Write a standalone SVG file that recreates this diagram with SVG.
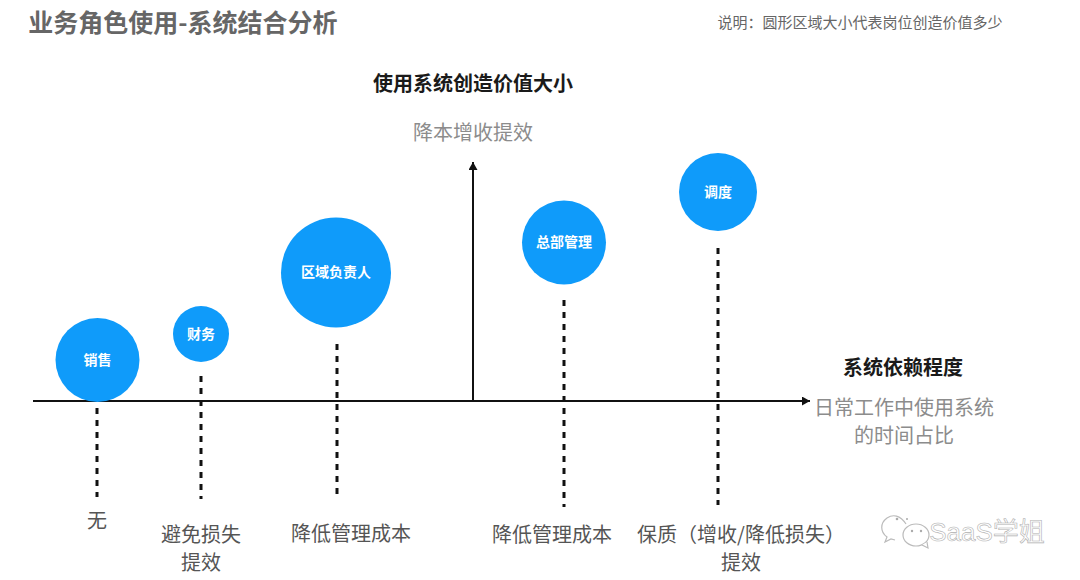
<svg xmlns="http://www.w3.org/2000/svg" width="1080" height="580" viewBox="0 0 1080 580">
<defs>
<marker id="ah" markerUnits="userSpaceOnUse" markerWidth="9" markerHeight="10" refX="8" refY="4.500" orient="auto"><path d="M0 0L8 4.500L0 9Z" fill="#111"/></marker>
</defs>
<style>
text{font-family:"Noto Sans CJK SC","Liberation Sans",sans-serif;text-anchor:middle}
.n{fill:#0F9BFA}
.w{fill:#fff;font-weight:700;font-size:14px}
.l{fill:#555;font-size:20px}
.g{fill:#8c8c8c;font-size:20px}
.b{fill:#1a1a1a;font-weight:700;font-size:20px}
.axis{stroke:#111;stroke-width:2;fill:none;marker-end:url(#ah)}
.d{stroke:#111;stroke-width:3;stroke-dasharray:6 6;fill:none}
</style>
<rect width="1080" height="580" fill="#fff"/>
<text id="title" x="183" y="32" style="font-size:25px;font-weight:700;fill:#666">业务角色使用-系统结合分析</text>
<text id="note" x="860" y="28" style="font-size:15px;fill:#666">说明：圆形区域大小代表岗位创造价值多少</text>
<text id="ytitle" class="b" x="473" y="91">使用系统创造价值大小</text>
<text id="ysub" class="g" x="473" y="140">降本增收提效</text>
<text id="xtitle" class="b" x="903" y="375">系统依赖程度</text>
<text id="xsub1" class="g" x="904" y="415">日常工作中使用系统</text>
<text id="xsub2" class="g" x="904" y="443">的时间占比</text>
<g id="connectors">
<path class="axis" d="M33 401H810"/>
<path class="axis" d="M473 401V162"/>
<path class="d" d="M97 408V497"/>
<path class="d" d="M201 376V499"/>
<path class="d" d="M337 344V499"/>
<path class="d" d="M564 300V507"/>
<path class="d" d="M718 248V505"/>
</g>
<g id="n-sales"><circle class="n" cx="97.500" cy="360" r="42"/><text class="w" x="97.500" y="365">销售</text></g>
<g id="n-finance"><circle class="n" cx="201" cy="334" r="28"/><text class="w" x="201" y="339">财务</text></g>
<g id="n-region"><circle class="n" cx="336" cy="272.500" r="55"/><text class="w" x="336" y="277">区域负责人</text></g>
<g id="n-hq"><circle class="n" cx="564" cy="242.500" r="42"/><text class="w" x="564" y="247">总部管理</text></g>
<g id="n-dispatch"><circle class="n" cx="718" cy="192" r="39"/><text class="w" x="718" y="197">调度</text></g>
<g id="labels">
<text class="l" x="97" y="528">无</text>
<text class="l" x="201" y="542">避免损失</text>
<text class="l" x="201" y="570">提效</text>
<text class="l" x="351" y="541">降低管理成本</text>
<text class="l" x="552" y="542">降低管理成本</text>
<text class="l" x="741" y="542">保质（增收/降低损失）</text>
<text class="l" x="741" y="570">提效</text>
</g>
<g id="watermark" transform="translate(8 0)">
<text x="979" y="541" style="font-size:26px;fill:#fff;stroke:#b0b0b0;stroke-width:.6px;font-family:'Liberation Sans','Noto Sans CJK SC',sans-serif">SaaS学姐</text>
<path d="M898 524c-6-9-13-10-19-6-7 5-7 14 0 19l-2 5 6-3 4 1" fill="none" stroke="#bbb" stroke-width="1.200"/>
<ellipse cx="908" cy="535" rx="13" ry="11" fill="#fff" stroke="#bbb" stroke-width="1.200"/>
<path d="M914 545l6 3-1-6" fill="#fff" stroke="#bbb" stroke-width="1.200"/>
<circle cx="889" cy="519" r="1.300" fill="#aaa"/><circle cx="899" cy="519" r="1" fill="#aaa"/>
<circle cx="904" cy="531" r="1.200" fill="#aaa"/><circle cx="913" cy="531" r="1.200" fill="#aaa"/>
</g>
</svg>
